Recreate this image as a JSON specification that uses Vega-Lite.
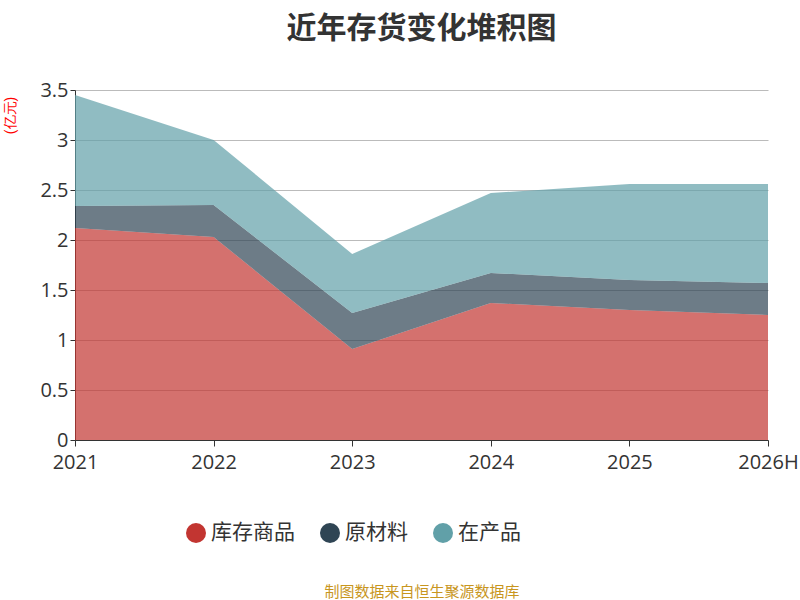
{
"$schema":"https://vega.github.io/schema/vega-lite/v6.json",
"autosize":{"type":"none"},
"width":693,"height":350,
"padding":{"left":75,"top":90,"right":32,"bottom":160},
"background":"white",
"config":{"view":{"stroke":null}},
"title":{"text":"近年存货变化堆积图","fontSize":30,"font":"Noto Sans CJK SC","fontWeight":"bold","color":"#333","offset":36,"anchor":"middle"},
"data":{"values":[
{"y":"2021","t":"库存商品","o":1,"v":2.12},{"y":"2022","t":"库存商品","o":1,"v":2.03},{"y":"2023","t":"库存商品","o":1,"v":0.91},{"y":"2024","t":"库存商品","o":1,"v":1.37},{"y":"2025","t":"库存商品","o":1,"v":1.30},{"y":"2026H","t":"库存商品","o":1,"v":1.25},
{"y":"2021","t":"原材料","o":2,"v":0.22},{"y":"2022","t":"原材料","o":2,"v":0.32},{"y":"2023","t":"原材料","o":2,"v":0.36},{"y":"2024","t":"原材料","o":2,"v":0.30},{"y":"2025","t":"原材料","o":2,"v":0.30},{"y":"2026H","t":"原材料","o":2,"v":0.32},
{"y":"2021","t":"在产品","o":3,"v":1.11},{"y":"2022","t":"在产品","o":3,"v":0.65},{"y":"2023","t":"在产品","o":3,"v":0.59},{"y":"2024","t":"在产品","o":3,"v":0.80},{"y":"2025","t":"在产品","o":3,"v":0.96},{"y":"2026H","t":"在产品","o":3,"v":0.99}
]},
"mark":{"type":"area","opacity":0.7},
"encoding":{
"x":{"field":"y","type":"ordinal","scale":{"type":"point","padding":0},"axis":{"labelAngle":0,"labelFontSize":20,"labelFont":"Open Sans","labelColor":"#333","domainColor":"#333","tickColor":"#333","tickSize":6,"grid":false,"labelPadding":6,"title":"制图数据来自恒生聚源数据库","titleColor":"#c8961e","titleFontSize":15,"titleFontWeight":"normal","titlePadding":112,"titleFont":"Noto Sans CJK SC"}},
"y":{"field":"v","type":"quantitative","stack":"zero","scale":{"domain":[0,3.5]},"axis":{"values":[0,0.5,1,1.5,2,2.5,3,3.5],"format":"~g","labelFontSize":20,"labelFont":"Open Sans","labelColor":"#333","domain":true,"domainColor":"#333","tickColor":"#333","ticks":true,"gridColor":"#bbb","title":"(亿元)","titleColor":"red","titleFontSize":14,"titleFontWeight":"normal","titleX":-58,"titleY":25,"titleAlign":"center"}},
"color":{"field":"t","type":"nominal","sort":["库存商品","原材料","在产品"],"scale":{"domain":["库存商品","原材料","在产品"],"range":["#c23531","#2f4554","#61a0a8"]},"legend":{"title":null,"orient":"none","legendX":110,"legendY":432,"direction":"horizontal","symbolType":"circle","symbolSize":400,"symbolOpacity":1,"labelFontSize":21,"labelFont":"Noto Sans CJK SC","labelColor":"#333","columnPadding":24}},
"order":{"field":"o","type":"quantitative"}
}
}
